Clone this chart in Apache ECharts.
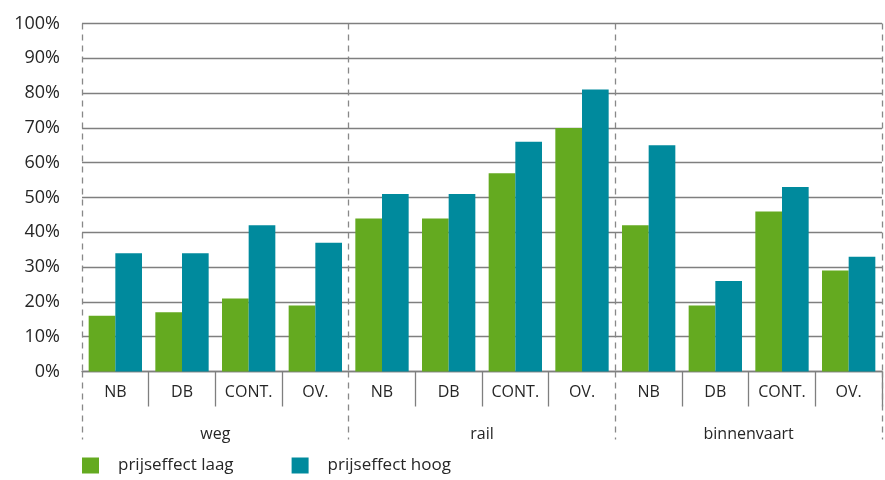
<!DOCTYPE html>
<html><head><meta charset="utf-8">
<script src="https://cdn.jsdelivr.net/npm/echarts@6/dist/echarts.min.js"></script>
<style>html,body{margin:0;padding:0;background:#fff}#c{width:885px;height:480px}</style>
</head><body><div id="c"></div>
<script>
var groups = ['weg', 'rail', 'binnenvaart'];
var subCategories = ['NB', 'DB', 'CONT.', 'OV.', 'NB', 'DB', 'CONT.', 'OV.', 'NB', 'DB', 'CONT.', 'OV.'];
var seriesNames = ['prijseffect laag', 'prijseffect hoog'];
var laag = [16, 17, 21, 19, 44, 44, 57, 70, 42, 19, 46, 29];
var hoog = [34, 34, 42, 37, 51, 51, 66, 81, 65, 26, 53, 33];
var yTicks = [0, 10, 20, 30, 40, 50, 60, 70, 80, 90, 100];

var FONT = 'Open Sans';
var TXT = '#262626';
var chart = echarts.init(document.getElementById('c'), null, {renderer: 'canvas'});
chart.setOption({
  animation: false,
  color: ['#64AA20', '#008A9D'],
  textStyle: {fontFamily: FONT},
  grid: {left: 82, width: 800, top: 23.5, bottom: 108.5, containLabel: false},
  legend: {
    left: 82, top: 457, padding: 0, itemWidth: 17, itemHeight: 16, itemGap: 58,
    icon: 'rect',
    data: seriesNames,
    textStyle: {fontFamily: FONT, fontSize: 17, color: TXT, padding: [0, 0, 0, 14]}
  },
  xAxis: [{
    type: 'category', data: subCategories, position: 'bottom',
    axisLine: {show: true, lineStyle: {color: '#7f7f7f', width: 1.3}},
    axisTick: {show: true, length: 35, lineStyle: {color: '#7f7f7f', width: 1.3},
      interval: function (i) { return i % 4 !== 0; }},
    axisLabel: {fontFamily: FONT, fontSize: 16, color: TXT, margin: 13, interval: 0},
    splitLine: {show: false}
  }, {
    type: 'category', data: groups, position: 'bottom', offset: 0,
    axisLine: {show: false},
    axisTick: {show: true, length: 68, lineStyle: {color: '#888', width: 1.3, type: [6, 5]}},
    axisLabel: {fontFamily: FONT, fontSize: 16, color: TXT, margin: 55},
    splitLine: {show: true, lineStyle: {color: '#888', width: 1.3, type: [6, 5]}}
  }],
  yAxis: {
    type: 'value', min: 0, max: 100, interval: 10,
    axisLine: {show: false}, axisTick: {show: false},
    axisLabel: {fontFamily: FONT, fontSize: 18, color: TXT, margin: 22,
      formatter: function (v) { return yTicks.indexOf(v) >= 0 ? v + '%' : ''; }},
    splitLine: {show: true, lineStyle: {color: '#7f7f7f', width: 1.3}}
  },
  series: [
    {name: seriesNames[0], type: 'bar', xAxisIndex: 0, data: laag, barGap: '0%', barCategoryGap: '20%'},
    {name: seriesNames[1], type: 'bar', xAxisIndex: 0, data: hoog, barGap: '0%', barCategoryGap: '20%'}
  ]
});
</script></body></html>
